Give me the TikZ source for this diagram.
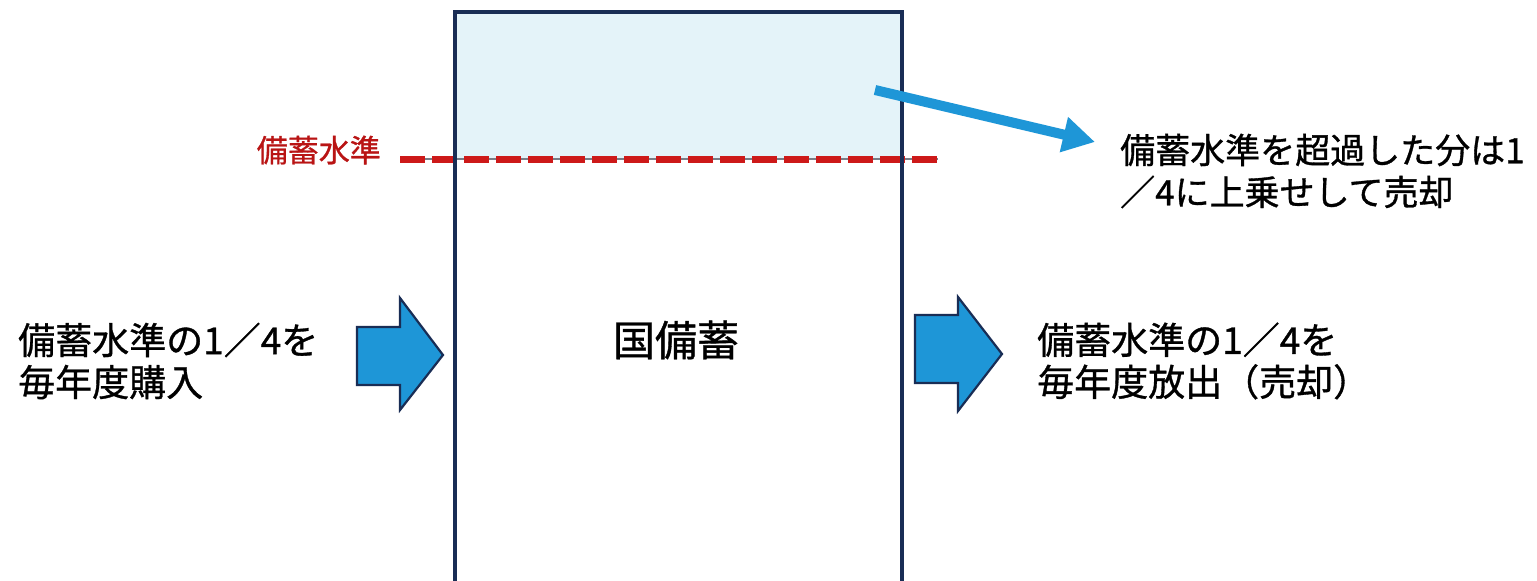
\documentclass[tikz,border=0pt]{standalone}
\usepackage{fontspec}
\newfontfamily\cjk[FakeBold=0.9]{Noto Sans CJK JP}
\usetikzlibrary{arrows.meta}
\definecolor{boxline}{RGB}{25,45,85}
\definecolor{topfill}{RGB}{228,243,249}
\definecolor{arrblue}{RGB}{30,150,215}
\definecolor{lvlred}{RGB}{205,25,25}
\definecolor{lblred}{RGB}{185,20,20}
\definecolor{gapgray}{RGB}{120,125,135}
\begin{document}
\begin{tikzpicture}[x=1pt,y=-1pt,
  txt/.style={font=\cjk\fontsize{37}{42}\selectfont, align=left, inner sep=0pt, anchor=west},
  blockarrow/.style={fill=arrblue, draw=boxline, line width=2.2pt, line join=miter}]
\useasboundingbox (0,0) rectangle (1537,581);
\fill[white] (0,0) rectangle (1537,581);
% upper (over-level) region
\fill[topfill] (455,12) rectangle (902,159);
% storage level line
\coordinate (lvlA) at (400,159);
\coordinate (lvlB) at (938,159);
\draw[gapgray, line width=2pt] (lvlA) -- (lvlB);
\draw[lvlred, line width=7pt, dash pattern=on 25pt off 7pt] (lvlA) -- (lvlB);
% stock box
\draw[boxline, line width=4pt] (455,12) rectangle (902,583);
% labels
\node[font=\cjk\fontsize{31}{36}\selectfont, text=lblred, anchor=east, inner sep=0pt] (lvl) at (381,150) {備蓄水準};
\node[font=\cjk\fontsize{42}{48}\selectfont, inner sep=0pt] (stock) at (676,340) {国備蓄};
\node[txt, font=\cjk\fontsize{35}{42}\selectfont] (over) at (1120,171) {備蓄水準を超過した分は1\\／4に上乗せして売却};
\node[txt] (buy) at (18,361) {備蓄水準の1／4を\\毎年度購入};
\node[txt] (sell) at (1037,361) {備蓄水準の1／4を\\毎年度放出（売却）};
% block arrows
\draw[blockarrow] (357,327) -- (400,327) -- (400,298) -- (443,355) -- (400,410) -- (400,385) -- (357,385) -- cycle;
\draw[blockarrow] (915,315) -- (958,315) -- (958,297) -- (1002,354) -- (958,411) -- (958,383) -- (915,383) -- cycle;
% excess arrow
\coordinate (ex0) at (875,90);
\coordinate (ex1) at (1095,142);
\draw[arrblue, line width=10pt, -{Triangle[length=32pt,width=34pt]}] (ex0) -- (ex1);
\end{tikzpicture}
\end{document}
